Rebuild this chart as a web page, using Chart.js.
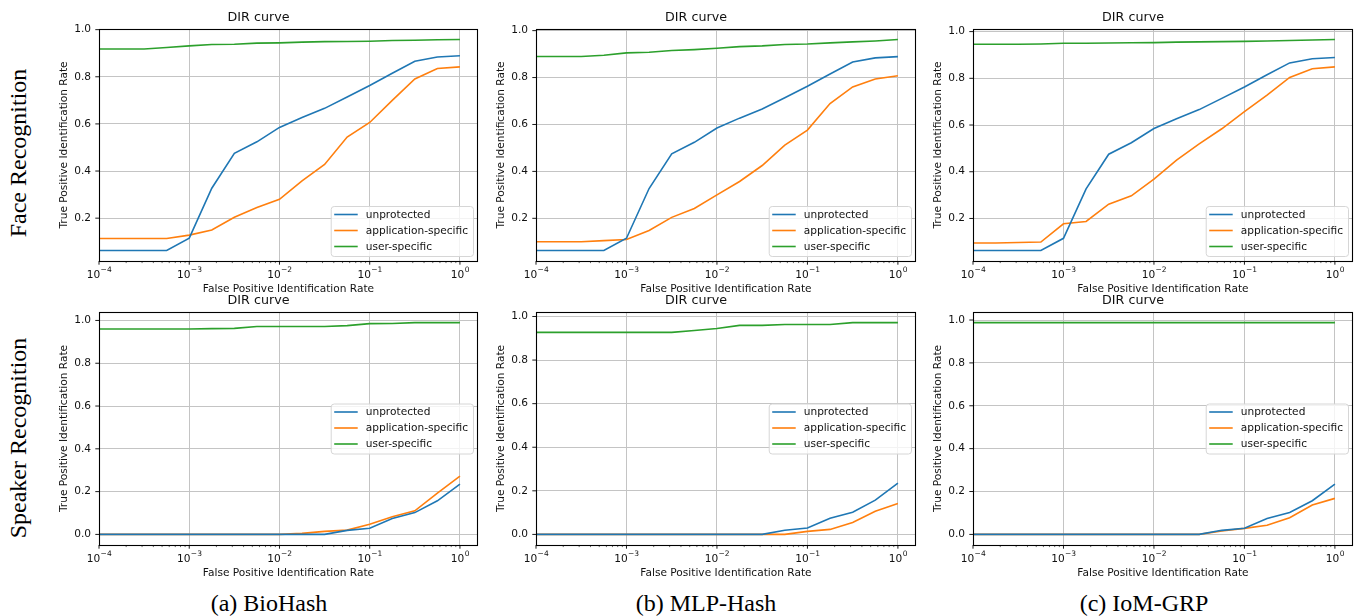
<!DOCTYPE html>
<html>
<head>
<meta charset="utf-8">
<script src="https://cdn.jsdelivr.net/npm/chart.js@4.4.0/dist/chart.umd.min.js"></script>
<style>
  body { margin: 0; background: #fff; width: 1362px; height: 616px; position: relative; overflow: hidden; }
  canvas { position: absolute; }
  .row, .cap { position: absolute; font-family: 'Liberation Serif', 'Times New Roman', serif; font-size: 24px; color: #000;
    white-space: nowrap; text-align: center; height: 30px; line-height: 30px; }
  .row { width: 260px; transform: rotate(-90deg); }
  .cap { width: 300px; }
</style>
</head>
<body>
<div class="row" style="left:-112px; top:138px;">Face Recognition</div>
<div class="row" style="left:-112px; top:423px;">Speaker Recognition</div>
<div class="cap" style="left:119px; top:588px;">(a) BioHash</div>
<div class="cap" style="left:556px; top:588px;">(b) MLP-Hash</div>
<div class="cap" style="left:994px; top:588px;">(c) IoM-GRP</div>

<canvas id="c0"></canvas>
<canvas id="c1"></canvas>
<canvas id="c2"></canvas>
<canvas id="c3"></canvas>
<canvas id="c4"></canvas>
<canvas id="c5"></canvas>

<script>
// x positions: false positive identification rate (quarter decades)
const fpir = [1e-4, 1.778e-4, 3.162e-4, 5.623e-4, 1e-3, 1.778e-3, 3.162e-3, 5.623e-3,
  1e-2, 1.778e-2, 3.162e-2, 5.623e-2, 0.1, 0.1778, 0.3162, 0.5623, 1];
const fpirTicks = [1e-4, 1e-3, 1e-2, 1e-1, 1];
const fpirTickExps = ['−4', '−3', '−2', '−1', '0'];   // labels are 10^exp
const seriesNames = ['unprotected', 'application-specific', 'user-specific'];
const seriesColors = ['#1f77b4', '#ff7f0e', '#2ca02c'];

// face recognition
const faceUnprotected = [0.063, 0.063, 0.063, 0.063, 0.115, 0.327, 0.475, 0.524, 0.585, 0.627, 0.666, 0.714, 0.763, 0.815, 0.866, 0.884, 0.889];
const faceBioHashApp = [0.114, 0.114, 0.114, 0.114, 0.128, 0.15, 0.204, 0.245, 0.28, 0.358, 0.428, 0.544, 0.606, 0.70, 0.791, 0.835, 0.842];
const faceBioHashUser = [0.918, 0.918, 0.918, 0.924, 0.931, 0.937, 0.938, 0.943, 0.944, 0.947, 0.949, 0.950, 0.951, 0.954, 0.955, 0.957, 0.958];
const faceMlpApp = [0.10, 0.10, 0.10, 0.105, 0.11, 0.148, 0.204, 0.242, 0.30, 0.357, 0.425, 0.512, 0.576, 0.689, 0.76, 0.794, 0.808];
const faceMlpUser = [0.89, 0.89, 0.89, 0.895, 0.905, 0.908, 0.915, 0.919, 0.925, 0.932, 0.935, 0.941, 0.943, 0.948, 0.952, 0.956, 0.962];
const faceIomApp = [0.095, 0.095, 0.097, 0.099, 0.177, 0.187, 0.261, 0.297, 0.368, 0.45, 0.519, 0.584, 0.657, 0.728, 0.804, 0.841, 0.849];
const faceIomUser = [0.946, 0.946, 0.946, 0.947, 0.95, 0.95, 0.951, 0.952, 0.953, 0.955, 0.956, 0.957, 0.958, 0.96, 0.962, 0.964, 0.966];

// speaker recognition
const speakerUnprotected = [0, 0, 0, 0, 0, 0, 0, 0, 0, 0, 0, 0.019, 0.029, 0.074, 0.102, 0.157, 0.235];
const speakerBioHashApp = [0, 0, 0, 0, 0, 0, 0, 0, 0, 0.005, 0.014, 0.02, 0.047, 0.083, 0.11, 0.193, 0.272];
const speakerBioHashUser = [0.96, 0.96, 0.96, 0.96, 0.96, 0.962, 0.963, 0.972, 0.972, 0.972, 0.972, 0.976, 0.985, 0.986, 0.99, 0.99, 0.99];
const speakerMlpApp = [0, 0, 0, 0, 0, 0, 0, 0, 0, 0, 0, 0, 0.014, 0.023, 0.055, 0.106, 0.142];
const speakerMlpUser = [0.927, 0.927, 0.927, 0.927, 0.927, 0.927, 0.927, 0.936, 0.945, 0.959, 0.959, 0.963, 0.963, 0.963, 0.972, 0.972, 0.972];
const speakerIomApp = [0, 0, 0, 0, 0, 0, 0, 0, 0, 0, 0, 0.016, 0.028, 0.043, 0.078, 0.137, 0.168];
const speakerIomUser = [0.988, 0.988, 0.988, 0.988, 0.988, 0.988, 0.988, 0.988, 0.988, 0.988, 0.988, 0.988, 0.988, 0.988, 0.988, 0.988, 0.988];

const panels = [
  {series: [faceUnprotected, faceBioHashApp, faceBioHashUser], legend: 'lower'},
  {series: [faceUnprotected, faceMlpApp, faceMlpUser], legend: 'lower'},
  {series: [faceUnprotected, faceIomApp, faceIomUser], legend: 'lower'},
  {series: [speakerUnprotected, speakerBioHashApp, speakerBioHashUser], legend: 'center'},
  {series: [speakerUnprotected, speakerMlpApp, speakerMlpUser], legend: 'center'},
  {series: [speakerUnprotected, speakerIomApp, speakerIomUser], legend: 'center'}
];

// plot box of every panel on the page
const boxes = [
  {left: 99, top: 29, right: 478, bottom: 261},
  {left: 536, top: 29, right: 916, bottom: 261},
  {left: 973, top: 29, right: 1353, bottom: 261},
  {left: 99, top: 312, right: 478, bottom: 545},
  {left: 536, top: 312, right: 916, bottom: 545},
  {left: 973, top: 312, right: 1353, bottom: 545}
];
const Y_AXIS_W = 60, TITLE_H = 21, X_AXIS_H = 35, RIGHT_PAD = 8;
const FONT = "'DejaVu Sans', sans-serif";

Chart.defaults.font.family = FONT;
Chart.defaults.color = '#111';

function isDecade(v) {
  const e = Math.log10(v);
  return Math.abs(e - Math.round(e)) < 1e-6;
}

// spines, outward tick marks (major and log minor), and 10^n labels
const frameTicks = {
  id: 'frameTicks',
  afterDatasetsDraw(chart) {
    const {ctx, chartArea: a, scales: {x, y}} = chart;
    ctx.save();
    ctx.strokeStyle = '#000';
    ctx.lineWidth = 0.9;
    ctx.beginPath();
    x.ticks.forEach(t => {
      if (!isDecade(t.value)) return;
      const px = x.getPixelForValue(t.value);
      ctx.moveTo(px, a.bottom); ctx.lineTo(px, a.bottom + 3.7);
    });
    y.ticks.forEach(t => {
      const py = y.getPixelForValue(t.value);
      ctx.moveTo(a.left, py); ctx.lineTo(a.left - 3.7, py);
    });
    ctx.stroke();
    ctx.lineWidth = 0.6;
    ctx.beginPath();
    x.ticks.forEach(t => {
      const v = t.value;
      if (isDecade(v)) return;
      const m = v / Math.pow(10, Math.floor(Math.log10(v) + 1e-9));
      if (Math.abs(m - Math.round(m)) > 1e-6) return;
      const px = x.getPixelForValue(v);
      ctx.moveTo(px, a.bottom); ctx.lineTo(px, a.bottom + 2.1);
    });
    ctx.stroke();
    ctx.lineWidth = 1.1;
    ctx.strokeRect(a.left + 0.5, a.top + 0.5, a.right - a.left - 1, a.bottom - a.top);

    // decade labels with a raised exponent
    ctx.fillStyle = '#111';
    ctx.textBaseline = 'alphabetic';
    ctx.textAlign = 'left';
    const baseY = a.bottom + 16.7;
    fpirTicks.forEach((v, i) => {
      const px = x.getPixelForValue(v);
      ctx.font = '10.6px ' + FONT;
      const w1 = ctx.measureText('10').width;
      ctx.font = '7.5px ' + FONT;
      const w2 = ctx.measureText(fpirTickExps[i]).width;
      const x0 = px - (w1 + w2) / 2;
      ctx.font = '10.6px ' + FONT;
      ctx.fillText('10', x0, baseY);
      ctx.font = '7.5px ' + FONT;
      ctx.fillText(fpirTickExps[i], x0 + w1 + 0.4, baseY - 5.4);
    });
    ctx.restore();
  }
};

function makeLegend(place) {
  return {
    id: 'insideLegend',
    afterDraw(chart) {
      const {ctx, chartArea: a} = chart;
      const ds = chart.data.datasets;
      ctx.save();
      ctx.font = '10.6px ' + FONT;
      const textW = Math.max(...ds.map(d => ctx.measureText(d.label).width));
      const w = 3.5 + 23.5 + 8 + textW + 5;
      const h = 50;
      const x0 = a.right - 5 - w;
      const y0 = place === 'center' ? (a.top + a.bottom) / 2 - h / 2 : a.bottom - 5 - h;
      ctx.beginPath();
      ctx.roundRect(x0 + 0.5, y0 + 0.5, w, h, 3);
      ctx.fillStyle = 'rgba(255,255,255,0.8)';
      ctx.fill();
      ctx.strokeStyle = '#d6d6d6';
      ctx.lineWidth = 1;
      ctx.stroke();
      ds.forEach((d, i) => {
        const cy = y0 + 8.5 + i * 16;
        ctx.strokeStyle = d.borderColor;
        ctx.lineWidth = 1.6;
        ctx.beginPath();
        ctx.moveTo(x0 + 3.5, cy); ctx.lineTo(x0 + 27, cy);
        ctx.stroke();
        ctx.fillStyle = '#111';
        ctx.textBaseline = 'middle';
        ctx.fillText(d.label, x0 + 35, cy + 0.5);
      });
      ctx.restore();
    }
  };
}

panels.forEach((p, k) => {
  const b = boxes[k];
  const canvas = document.getElementById('c' + k);
  canvas.width = Y_AXIS_W + (b.right - b.left) + RIGHT_PAD;
  canvas.height = TITLE_H + (b.bottom - b.top) + X_AXIS_H;
  canvas.style.left = (b.left - Y_AXIS_W) + 'px';
  canvas.style.top = (b.top - TITLE_H) + 'px';

  const all = [].concat(...p.series);
  const lo = Math.min(...all), hi = Math.max(...all);
  const margin = (hi - lo) * 0.05;

  new Chart(canvas, {
    type: 'line',
    data: {
      datasets: p.series.map((vals, i) => ({
        label: seriesNames[i],
        data: fpir.map((x, j) => ({x: x, y: vals[j]})),
        borderColor: seriesColors[i],
        backgroundColor: seriesColors[i],
        borderWidth: 1.6,
        pointRadius: 0,
        tension: 0,
        fill: false
      }))
    },
    options: {
      responsive: false,
      animation: false,
      devicePixelRatio: 1,
      layout: {padding: {left: 0, top: 0, right: RIGHT_PAD, bottom: 0}},
      plugins: {
        legend: {display: false},
        tooltip: {enabled: false},
        title: {
          display: true,
          text: 'DIR curve',
          color: '#111',
          font: {size: 12.7, weight: 'normal', lineHeight: '15px'},
          padding: {top: 2, bottom: 4}
        }
      },
      scales: {
        x: {
          type: 'logarithmic',
          min: 1e-4,
          max: Math.pow(10, 0.2),
          border: {display: false},
          grid: {
            drawTicks: false,
            lineWidth: 1,
            color: c => (c.tick && isDecade(c.tick.value)) ? '#c4c4c4' : 'rgba(0,0,0,0)'
          },
          ticks: {
            autoSkip: false,
            maxRotation: 0,
            minRotation: 0,
            padding: 6,
            font: {size: 10.6},
            callback: () => ''
          },
          title: {
            display: true,
            text: 'False Positive Identification Rate',
            font: {size: 10.6},
            padding: {top: 0, bottom: 0.6}
          },
          afterFit: s => { s.height = X_AXIS_H; }
        },
        y: {
          type: 'linear',
          min: lo - margin,
          max: hi + margin,
          border: {display: false},
          grid: {drawTicks: false, lineWidth: 1, color: '#c4c4c4'},
          ticks: {
            stepSize: 0.2,
            includeBounds: false,
            padding: 8,
            font: {size: 10.6},
            callback: v => (Math.abs(v) < 1e-9 ? 0 : v).toFixed(1)
          },
          title: {
            display: true,
            text: 'True Positive Identification Rate',
            font: {size: 10.6},
            padding: {top: 19, bottom: 0}
          },
          afterFit: s => { s.width = Y_AXIS_W; }
        }
      }
    },
    plugins: [frameTicks, makeLegend(p.legend)]
  });
});
</script>
</body>
</html>
